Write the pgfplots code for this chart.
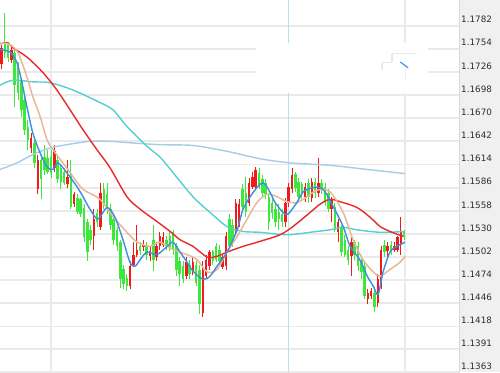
\documentclass[border=0pt]{standalone}
\usepackage{pgfplots}
\pgfplotsset{compat=1.18}
\usepackage{pgfplotstable}
\usepackage{fontspec}
\setmainfont{DejaVu Sans}
\definecolor{cup}{HTML}{EE1C1C}
\definecolor{cdn}{HTML}{3CE83C}
\definecolor{mablue}{HTML}{3D8FE0}
\definecolor{matan}{HTML}{E8B898}
\definecolor{mared}{HTML}{E82A2A}
\definecolor{mateal}{HTML}{55CFD2}
\definecolor{malight}{HTML}{A6CCE6}
\definecolor{vcyan}{HTML}{AEE6EE}
\definecolor{gridc}{HTML}{EAEAEA}
\definecolor{panel}{HTML}{F0F0F0}

\pgfplotstableread{
i O H L C
0 1.1735 1.1759 1.1729 1.1755
3 1.1741 1.1758 1.1737 1.1753
9 1.1634 1.1652 1.1628 1.1646
11 1.1584 1.1626 1.1578 1.1620
16 1.1610 1.1638 1.1605 1.1630
20 1.1590 1.1620 1.1586 1.1599
22 1.1566 1.1581 1.1562 1.1578
28 1.1527 1.1560 1.1511 1.1548
30 1.1539 1.1592 1.1535 1.1580
39 1.1467 1.1497 1.1463 1.1491
40 1.1493 1.1520 1.1490 1.1505
41 1.1505 1.1541 1.1502 1.1511
43 1.1514 1.1523 1.1509 1.1517
45 1.1503 1.1514 1.1497 1.1509
47 1.1502 1.1520 1.1497 1.1515
48 1.1515 1.1533 1.1511 1.1527
49 1.1517 1.1532 1.1514 1.1526
56 1.1479 1.1502 1.1475 1.1496
58 1.1485 1.1502 1.1481 1.1496
61 1.1435 1.1497 1.1430 1.1487
62 1.1479 1.1505 1.1475 1.1499
63 1.1491 1.1511 1.1487 1.1508
67 1.1490 1.1505 1.1487 1.1502
68 1.1491 1.1532 1.1487 1.1527
71 1.1535 1.1572 1.1529 1.1568
72 1.1541 1.1572 1.1538 1.1566
75 1.1568 1.1598 1.1564 1.1592
76 1.1587 1.1605 1.1584 1.1599
77 1.1587 1.1611 1.1584 1.1608
86 1.1544 1.1574 1.1538 1.1568
87 1.1568 1.1592 1.1563 1.1587
88 1.1584 1.1610 1.1580 1.1602
92 1.1575 1.1592 1.1569 1.1587
94 1.1574 1.1598 1.1569 1.1593
96 1.1580 1.1622 1.1575 1.1592
100 1.1560 1.1575 1.1545 1.1572
102 1.1532 1.1548 1.1520 1.1544
106 1.1503 1.1526 1.1479 1.1520
111 1.1451 1.1463 1.1445 1.1459
112 1.1455 1.1465 1.1451 1.1461
114 1.1447 1.1481 1.1442 1.1475
115 1.1467 1.1515 1.1463 1.1511
117 1.1509 1.1520 1.1502 1.1515
119 1.1511 1.1520 1.1508 1.1515
120 1.1511 1.1528 1.1508 1.1526
121 1.1517 1.1551 1.1505 1.1532
}\upc

\pgfplotstableread{
i O H L C
1 1.1761 1.1797 1.1743 1.1749
2 1.1759 1.1762 1.1738 1.1743
4 1.1749 1.1753 1.1683 1.1710
5 1.1735 1.1738 1.1692 1.1701
6 1.1716 1.1719 1.1671 1.1680
7 1.1692 1.1698 1.1650 1.1656
8 1.1660 1.1668 1.1632 1.1644
10 1.1640 1.1644 1.1610 1.1616
12 1.1620 1.1622 1.1572 1.1596
13 1.1623 1.1638 1.1602 1.1608
14 1.1622 1.1632 1.1602 1.1605
15 1.1623 1.1632 1.1598 1.1604
17 1.1620 1.1626 1.1592 1.1596
18 1.1610 1.1614 1.1584 1.1593
19 1.1605 1.1610 1.1589 1.1592
21 1.1604 1.1620 1.1560 1.1563
23 1.1574 1.1578 1.1554 1.1557
24 1.1572 1.1574 1.1550 1.1554
25 1.1562 1.1566 1.1520 1.1526
26 1.1544 1.1548 1.1497 1.1508
27 1.1535 1.1541 1.1517 1.1523
29 1.1556 1.1560 1.1538 1.1545
31 1.1584 1.1592 1.1560 1.1566
32 1.1578 1.1592 1.1554 1.1560
33 1.1560 1.1566 1.1535 1.1541
34 1.1548 1.1554 1.1517 1.1523
35 1.1535 1.1538 1.1509 1.1515
36 1.1520 1.1523 1.1465 1.1475
37 1.1487 1.1493 1.1463 1.1469
38 1.1477 1.1481 1.1461 1.1467
42 1.1515 1.1520 1.1504 1.1509
44 1.1515 1.1520 1.1499 1.1505
46 1.1523 1.1541 1.1485 1.1499
50 1.1523 1.1528 1.1511 1.1516
51 1.1528 1.1533 1.1509 1.1514
52 1.1532 1.1535 1.1505 1.1511
53 1.1515 1.1519 1.1479 1.1487
54 1.1497 1.1502 1.1467 1.1481
55 1.1491 1.1497 1.1471 1.1475
57 1.1493 1.1499 1.1475 1.1481
59 1.1493 1.1497 1.1467 1.1471
60 1.1487 1.1493 1.1433 1.1445
64 1.1509 1.1511 1.1492 1.1497
65 1.1515 1.1519 1.1496 1.1499
66 1.1511 1.1517 1.1493 1.1497
69 1.1548 1.1554 1.1511 1.1515
70 1.1541 1.1548 1.1514 1.1520
73 1.1584 1.1590 1.1560 1.1563
74 1.1580 1.1599 1.1551 1.1556
78 1.1604 1.1610 1.1584 1.1587
79 1.1596 1.1601 1.1575 1.1580
80 1.1592 1.1596 1.1572 1.1578
81 1.1575 1.1580 1.1535 1.1544
82 1.1568 1.1572 1.1548 1.1556
83 1.1560 1.1566 1.1539 1.1544
84 1.1556 1.1566 1.1535 1.1548
85 1.1554 1.1560 1.1539 1.1544
89 1.1602 1.1605 1.1581 1.1586
90 1.1593 1.1598 1.1572 1.1575
91 1.1590 1.1593 1.1572 1.1578
93 1.1592 1.1596 1.1568 1.1575
95 1.1593 1.1598 1.1574 1.1580
97 1.1592 1.1596 1.1578 1.1584
98 1.1587 1.1592 1.1564 1.1568
99 1.1580 1.1584 1.1556 1.1560
101 1.1563 1.1568 1.1532 1.1535
103 1.1539 1.1541 1.1503 1.1508
104 1.1523 1.1529 1.1502 1.1505
105 1.1511 1.1515 1.1493 1.1499
107 1.1520 1.1523 1.1499 1.1505
108 1.1515 1.1520 1.1485 1.1491
109 1.1499 1.1505 1.1475 1.1484
110 1.1491 1.1497 1.1451 1.1455
113 1.1459 1.1463 1.1435 1.1442
116 1.1517 1.1523 1.1502 1.1508
118 1.1517 1.1521 1.1504 1.1509
122 1.1532 1.1535 1.1523 1.1527
}\dnc

\begin{document}
\begin{tikzpicture}[x=1pt,y=1pt]
\useasboundingbox (0,0) rectangle (500,372);
\fill[white] (0,0) rectangle (500,372);
\fill[panel] (459,0) rectangle (500,372);
\draw[gray!30, line width=0.8pt] (459,0) -- (459,372);
\begin{axis}[
  at={(0pt,0pt)}, anchor=south west,
  scale only axis, width=459pt, height=372pt,
  xmin=-0.45, xmax=138.6, ymin=1.1363, ymax=1.1813,
  axis line style={draw=none},
  xtick={14.9,122.3}, xticklabels={},
  ytick={1.1363,1.1391,1.1418,1.1446,1.1474,1.1502,1.1530,1.1558,1.1586,1.1614,1.1642,1.1670,1.1698,1.1726,1.1754,1.1782},
  yticklabels={1.1363,1.1391,1.1418,1.1446,1.1474,1.1502,1.1530,1.1558,1.1586,1.1614,1.1642,1.1670,1.1698,1.1726,1.1754,1.1782},
  yticklabel pos=right,
  major tick length=0pt,
  grid=major,
  grid style={gridc, line width=1.8pt},
  yticklabel style={font=\fontsize{8.8}{10}\selectfont, text=black!82, anchor=west, inner sep=0pt, xshift=2pt, yshift=6pt},
]
\draw[vcyan, line width=1.5pt] (axis cs:86.9,1.1363) -- (axis cs:86.9,1.1813);

% wicks
\addplot[draw=none, mark=none, forget plot, error bars/.cd, y dir=both, y explicit, error mark=none,
  error bar style={draw=cup, line width=0.9pt}]
  table[x=i, y expr={(\thisrow{H}+\thisrow{L})/2}, y error expr={(\thisrow{H}-\thisrow{L})/2}] {\upc};
\addplot[draw=none, mark=none, forget plot, error bars/.cd, y dir=both, y explicit, error mark=none,
  error bar style={draw=cdn, line width=0.9pt}]
  table[x=i, y expr={(\thisrow{H}+\thisrow{L})/2}, y error expr={(\thisrow{H}-\thisrow{L})/2}] {\dnc};
% bodies
\addplot[draw=none, mark=none, forget plot, error bars/.cd, y dir=both, y explicit, error mark=none,
  error bar style={draw=cup, line width=2.5pt}]
  table[x=i, y expr={(\thisrow{O}+\thisrow{C})/2}, y error expr={abs(\thisrow{C}-\thisrow{O})/2}] {\upc};
\addplot[draw=none, mark=none, forget plot, error bars/.cd, y dir=both, y explicit, error mark=none,
  error bar style={draw=cdn, line width=2.5pt}]
  table[x=i, y expr={(\thisrow{O}+\thisrow{C})/2}, y error expr={abs(\thisrow{C}-\thisrow{O})/2}] {\dnc};

% light blue MA
\addplot[malight, line width=1.4pt, smooth, mark=none] coordinates {
(-0.45,1.1608) (4.7,1.1616) (9.5,1.1626) (14.7,1.1634) (19.8,1.1638) (26.8,1.1642) (32.9,1.1642) (39.9,1.1640) (48.0,1.1638) (58.0,1.1637) (68.3,1.1630) (78.3,1.1621) (87.4,1.1616) (99.5,1.1613) (110.8,1.1608) (122.3,1.1603)};
% teal MA
\addplot[mateal, line width=1.4pt, smooth, mark=none] coordinates {
(-0.45,1.1710) (3.5,1.1716) (9.5,1.1714) (14.7,1.1713) (21.7,1.1704) (29.8,1.1689) (33.8,1.1680) (38.0,1.1660) (44.1,1.1636) (48.0,1.1623) (52.0,1.1604) (58.0,1.1575) (63.2,1.1556) (68.3,1.1539) (73.2,1.1533) (78.3,1.1532) (86.5,1.1529) (93.5,1.1532) (99.5,1.1535) (103.5,1.1538) (107.7,1.1535) (114.7,1.1532) (122.3,1.1533)};
% red MA
\addplot[mared, line width=1.4pt, smooth, mark=none] coordinates {
(-0.45,1.1760) (2.0,1.1761) (3.5,1.1755) (7.7,1.1744) (12.6,1.1725) (16.8,1.1704) (20.8,1.1680) (24.7,1.1656) (28.9,1.1632) (32.9,1.1610) (38.0,1.1575) (42.0,1.1560) (47.1,1.1545) (51.1,1.1533) (54.1,1.1523) (58.0,1.1515) (62.3,1.1502) (65.3,1.1503) (68.3,1.1508) (73.2,1.1515) (78.3,1.1521) (84.4,1.1529) (88.3,1.1539) (93.5,1.1556) (96.5,1.1566) (99.5,1.1572) (102.6,1.1569) (107.7,1.1562) (111.7,1.1550) (114.7,1.1539) (117.7,1.1533) (121.7,1.1527)};
% tan MA
\addplot[matan, line width=1.5pt, smooth, mark=none] coordinates {
(-0.45,1.1761) (2.6,1.1759) (5.0,1.1749) (7.7,1.1720) (9.5,1.1696) (11.7,1.1672) (13.8,1.1644) (15.6,1.1632) (18.6,1.1616) (21.7,1.1599) (24.7,1.1584) (29.8,1.1572) (33.8,1.1551) (38.0,1.1532) (41.1,1.1520) (45.0,1.1515) (48.0,1.1520) (52.0,1.1511) (56.2,1.1505) (59.2,1.1499) (62.3,1.1484) (65.3,1.1487) (68.3,1.1508) (71.4,1.1527) (74.4,1.1548) (77.4,1.1568) (80.5,1.1578) (83.5,1.1575) (86.5,1.1569) (89.5,1.1568) (92.6,1.1575) (95.6,1.1583) (99.5,1.1581) (103.5,1.1556) (106.5,1.1523) (109.5,1.1499) (112.6,1.1484) (114.7,1.1479) (117.7,1.1487) (120.8,1.1496) (122.3,1.1503)};
% blue MA
\addplot[mablue, line width=1.4pt, smooth, mark=none] coordinates {
(-0.45,1.1753) (2.6,1.1750) (4.7,1.1737) (6.2,1.1713) (7.7,1.1684) (9.5,1.1652) (11.7,1.1628) (13.8,1.1611) (15.6,1.1608) (17.1,1.1616) (19.8,1.1604) (22.9,1.1587) (24.7,1.1575) (26.8,1.1560) (29.2,1.1548) (32.0,1.1562) (34.4,1.1550) (36.8,1.1523) (38.9,1.1496) (40.5,1.1491) (42.0,1.1499) (44.1,1.1508) (47.1,1.1505) (50.2,1.1515) (52.0,1.1520) (54.1,1.1508) (56.2,1.1496) (58.0,1.1485) (61.1,1.1475) (63.2,1.1479) (65.3,1.1491) (68.3,1.1508) (71.4,1.1535) (73.2,1.1560) (76.2,1.1580) (79.2,1.1592) (81.4,1.1580) (82.9,1.1568) (85.3,1.1556) (86.8,1.1554) (89.5,1.1568) (91.4,1.1581) (94.4,1.1586) (97.4,1.1584) (100.5,1.1563) (103.5,1.1539) (105.6,1.1515) (108.5,1.1499) (110.8,1.1479) (112.6,1.1467) (114.1,1.1457) (115.6,1.1484) (117.7,1.1508) (119.8,1.1515) (122.3,1.1520)};

% white patch with small leftover marks
\fill[white] (axis cs:77.1,1.1761) rectangle (axis cs:129.2,1.1701);
\draw[gridc, line width=1.2pt] (axis cs:118.3,1.1748) -- (axis cs:125.9,1.1748);
\draw[gridc, line width=1.2pt] (axis cs:118.3,1.1748) -- (axis cs:118.3,1.1738);
\draw[gridc, line width=1.2pt] (axis cs:115.3,1.1737) -- (axis cs:118.3,1.1737);
\draw[gridc, line width=1.2pt] (axis cs:115.3,1.1737) -- (axis cs:115.3,1.1728);
\draw[gridc, line width=1.2pt] (axis cs:122.3,1.1732) -- (axis cs:122.3,1.1718);
\draw[mablue, line width=1.1pt] (axis cs:120.8,1.1738) -- (axis cs:123.2,1.1731);
\end{axis}
\end{tikzpicture}
\end{document}
